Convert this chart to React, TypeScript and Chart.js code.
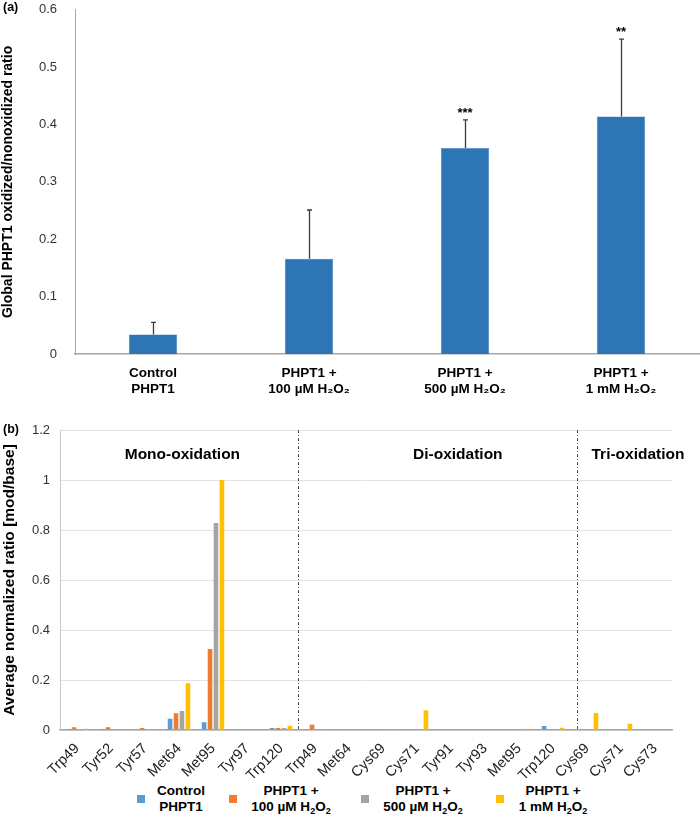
import React, { useEffect, useRef } from "react";
import { Chart, registerables } from "chart.js";

Chart.register(...registerables);

const FONT = '"Liberation Sans", Arial, Helvetica, sans-serif';

// ---------- Panel (a) data ----------
const topCategories = [
  ["Control", "PHPT1"],
  ["PHPT1 +", "100 µM H₂O₂"],
  ["PHPT1 +", "500 µM H₂O₂"],
  ["PHPT1 +", "1 mM H₂O₂"],
];
const topValues = [0.034, 0.166, 0.359, 0.414];
const topErrorTops = [0.055, 0.251, 0.408, 0.549];
const topSignificance = ["", "", "***", "**"];
const topYTitle = "Global PHPT1 oxidized/nonoxidized ratio";

// ---------- Panel (b) data ----------
const bottomCategories = [
  "Trp49", "Tyr52", "Tyr57", "Met64", "Met95", "Tyr97", "Trp120",
  "Trp49", "Met64", "Cys69", "Cys71", "Tyr91", "Tyr93", "Met95", "Trp120",
  "Cys69", "Cys71", "Cys73",
];
const seriesNames = ["Control PHPT1", "PHPT1 + 100 µM H₂O₂", "PHPT1 + 500 µM H₂O₂", "PHPT1 + 1 mM H₂O₂"];
const controlValues = [0.004, 0.004, 0.003, 0.045, 0.031, 0, 0.008, 0.003, 0, 0, 0, 0, 0, 0, 0.016, 0, 0, 0];
const h100Values = [0.011, 0.011, 0.008, 0.067, 0.324, 0.001, 0.008, 0.021, 0, 0, 0, 0, 0, 0.001, 0, 0, 0, 0];
const h500Values = [0.001, 0.001, 0.001, 0.076, 0.828, 0.003, 0.008, 0, 0, 0, 0.003, 0.001, 0.001, 0.001, 0, 0.001, 0, 0];
const h1mValues = [0.005, 0.003, 0.003, 0.187, 1.0, 0.002, 0.017, 0.003, 0, 0.004, 0.079, 0.002, 0.002, 0.005, 0.009, 0.068, 0.025, 0.003];
const seriesColors = ["#5B9BD5", "#ED7D31", "#A5A5A5", "#FFC000"];
const sectionLabels = ["Mono-oxidation", "Di-oxidation", "Tri-oxidation"];
const sectionLabelIndex = [3.1, 11.2, 16.5];
const sectionLabelValue = 1.1;
const dividerIndex = [6.5, 14.7];
const bottomYTitle = "Average normalized ratio [mod/base]";

const errorBarPlugin = {
  id: "errorBars",
  afterDatasetsDraw(chart: any) {
    const ctx = chart.ctx;
    const meta = chart.getDatasetMeta(0);
    const y = chart.scales.y;
    ctx.save();
    ctx.strokeStyle = "#3a3a3a";
    ctx.lineWidth = 1.3;
    meta.data.forEach((bar: any, i: number) => {
      const top = y.getPixelForValue(topErrorTops[i]);
      const x = Math.round(bar.x) + 0.5;
      ctx.beginPath();
      ctx.moveTo(x, bar.y);
      ctx.lineTo(x, top);
      ctx.moveTo(x - 2.5, top);
      ctx.lineTo(x + 2.5, top);
      ctx.stroke();
      if (topSignificance[i]) {
        ctx.fillStyle = "#000";
        ctx.font = `bold 13px ${FONT}`;
        ctx.textAlign = "center";
        ctx.textBaseline = "middle";
        ctx.fillText(topSignificance[i], bar.x, top - 7);
      }
    });
    ctx.restore();
  },
};

const sectionPlugin = {
  id: "sections",
  afterDatasetsDraw(chart: any) {
    const ctx = chart.ctx;
    const x = chart.scales.x;
    const y = chart.scales.y;
    const area = chart.chartArea;
    ctx.save();
    ctx.strokeStyle = "#505050";
    ctx.lineWidth = 1;
    ctx.setLineDash([3, 2, 1, 2]);
    dividerIndex.forEach((d) => {
      const px = Math.round(x.getPixelForValue(d)) + 0.5;
      ctx.beginPath();
      ctx.moveTo(px, area.top);
      ctx.lineTo(px, area.bottom);
      ctx.stroke();
    });
    ctx.setLineDash([]);
    ctx.fillStyle = "#000";
    ctx.font = `bold 15.5px ${FONT}`;
    ctx.textAlign = "center";
    ctx.textBaseline = "middle";
    sectionLabels.forEach((s, i) => {
      ctx.fillText(s, x.getPixelForValue(sectionLabelIndex[i]), y.getPixelForValue(sectionLabelValue));
    });
    ctx.restore();
  },
};

function TopChart() {
  const ref = useRef<HTMLCanvasElement>(null);
  useEffect(() => {
    const chart = new Chart(ref.current as HTMLCanvasElement, {
      type: "bar",
      data: {
        labels: topCategories as any,
        datasets: [
          {
            data: topValues,
            backgroundColor: "#2E75B6",
            borderColor: "#4a88c4",
            borderWidth: 0.5,
            barPercentage: 1,
            categoryPercentage: 0.31,
          },
        ],
      },
      options: {
        animation: false,
        responsive: false,
        layout: { padding: { top: 0, right: 1, left: 0, bottom: 0 } },
        plugins: { legend: { display: false }, tooltip: { enabled: false } },
        scales: {
          x: {
            grid: { display: false },
            border: { display: true, color: "#A6A6A6", width: 1.5 },
            ticks: { color: "#000", font: { family: FONT, size: 13.5, weight: "bold" }, padding: 3, maxRotation: 0 },
            afterFit: (s: any) => { s.height = 56; },
          },
          y: {
            min: 0,
            max: 0.6,
            grid: { display: false },
            border: { display: true, color: "#A6A6A6", width: 1 },
            ticks: { stepSize: 0.1, color: "#333", font: { family: FONT, size: 13 }, padding: 10, callback: (v: any) => String(Math.round(v * 10) / 10) },
            title: { display: true, text: topYTitle, color: "#000", font: { family: FONT, size: 14, weight: "bold" }, padding: { top: 0, bottom: 4 } },
            afterFit: (s: any) => { s.width = 75; },
          },
        },
      },
      plugins: [errorBarPlugin],
    });
    return () => chart.destroy();
  }, []);
  return <canvas ref={ref} width={700} height={418} style={{ position: "absolute", left: 0, top: -8, width: 700, height: 418 }} />;
}

function BottomChart() {
  const ref = useRef<HTMLCanvasElement>(null);
  useEffect(() => {
    const all = [controlValues, h100Values, h500Values, h1mValues];
    const chart = new Chart(ref.current as HTMLCanvasElement, {
      type: "bar",
      data: {
        labels: bottomCategories,
        datasets: all.map((d, i) => ({
          label: seriesNames[i],
          data: d,
          backgroundColor: seriesColors[i],
          barPercentage: 0.78,
          categoryPercentage: 0.7,
        })),
      },
      options: {
        animation: false,
        responsive: false,
        layout: { padding: { top: 20, right: 28, left: 0, bottom: 0 } },
        plugins: { legend: { display: false }, tooltip: { enabled: false } },
        scales: {
          x: {
            grid: { display: false },
            border: { display: true, color: "#A6A6A6", width: 1.5 },
            ticks: { color: "#222", font: { family: FONT, size: 14.5 }, autoSkip: false, minRotation: 45, maxRotation: 45, padding: 2 },
            afterFit: (s: any) => { s.height = 50; },
          },
          y: {
            min: 0,
            max: 1.2,
            grid: { color: "#E3E3E3", lineWidth: 1, drawTicks: false },
            border: { display: true, color: "#C8C8C8", width: 1 },
            ticks: { stepSize: 0.2, color: "#333", font: { family: FONT, size: 13 }, padding: 10, callback: (v: any) => String(Math.round(v * 10) / 10) },
            title: { display: true, text: bottomYTitle, color: "#000", font: { family: FONT, size: 15.5, weight: "bold" }, padding: { top: 0, bottom: 2 } },
            afterFit: (s: any) => { s.width = 60; },
          },
        },
      },
      plugins: [sectionPlugin],
    });
    return () => chart.destroy();
  }, []);
  return <canvas ref={ref} width={700} height={370} style={{ position: "absolute", left: 0, top: 410, width: 700, height: 370 }} />;
}

const legendLines = [
  ["Control", "PHPT1"],
  ["PHPT1 +", "100 µM H", "2", "O", "2"],
  ["PHPT1 +", "500 µM H", "2", "O", "2"],
  ["PHPT1 +", "1 mM H", "2", "O", "2"],
];
const legendSquareX = [137, 229, 361, 496];
const legendTextX = [181, 291, 423, 553];

function Legend() {
  return (
    <div style={{ position: "absolute", left: 0, top: 780, width: 700, height: 38, fontFamily: FONT, fontWeight: "bold", fontSize: 13.5, color: "#000" }}>
      {legendLines.map((l, i) => (
        <React.Fragment key={i}>
          <div style={{ position: "absolute", left: legendSquareX[i], top: 15, width: 8, height: 8, background: seriesColors[i] }} />
          <div style={{ position: "absolute", left: legendTextX[i] - 60, width: 120, top: 3, textAlign: "center", lineHeight: "16px" }}>
            <div>{l[0]}</div>
            <div>
              {l.length > 2 ? (
                <span>
                  {l[1]}
                  <sub style={{ fontSize: 9, verticalAlign: -3 }}>{l[2]}</sub>
                  {l[3]}
                  <sub style={{ fontSize: 9, verticalAlign: -3 }}>{l[4]}</sub>
                </span>
              ) : (
                l[1]
              )}
            </div>
          </div>
        </React.Fragment>
      ))}
    </div>
  );
}

export default function App() {
  return (
    <div style={{ position: "absolute", left: 0, top: 0, width: 700, height: 818, background: "#fff", overflow: "hidden" }}>
      <TopChart />
      <BottomChart />
      <Legend />
      <div style={{ position: "absolute", left: 3, top: 0, fontFamily: FONT, fontWeight: "bold", fontSize: 12.5 }}>(a)</div>
      <div style={{ position: "absolute", left: 3, top: 422, fontFamily: FONT, fontWeight: "bold", fontSize: 12.5 }}>(b)</div>
    </div>
  );
}
